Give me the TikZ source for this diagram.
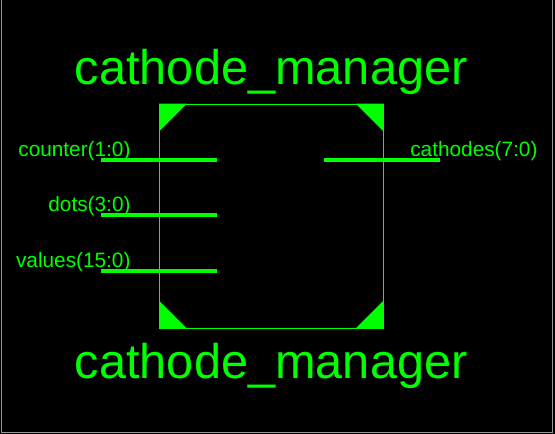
\documentclass[tikz,border=0pt]{standalone}
\usepackage{fontspec}
\setmainfont{Liberation Sans}
\usepackage{xcolor}
\usetikzlibrary{positioning}
\definecolor{schgreen}{RGB}{0,255,0}
\definecolor{framegray}{RGB}{150,150,150}

\begin{document}
\begin{tikzpicture}[x=1pt,y=-1pt,line width=1pt]
  \tikzstyle{pin wire} = [draw,schgreen,line width=4pt]
  \tikzstyle{pin label} = [schgreen,font=\fontsize{20.8}{24}\selectfont,inner sep=0pt,anchor=base east]
  \tikzstyle{block title} = [schgreen,font=\fontsize{48.7}{56}\selectfont,inner sep=0pt]
  \tikzstyle{corner mark} = [fill=schgreen]

  \fill[black] (0,0) rectangle (555,434);
  \useasboundingbox (0,0) rectangle (555,434);
  \draw[framegray] (1.5,-2) -- (1.5,432.5) -- (552.5,432.5) -- (552.5,-2);

  \node[draw=schgreen,minimum width=223.5pt,minimum height=224pt,inner sep=0pt] (box) at (271.25,216) {};
  \node[block title,above=8pt of box] (title top) {cathode\_manager};
  \node[block title,below=14.5pt of box] (title bottom) {cathode\_manager};

  % corner triangles
  \fill[corner mark] (box.north west) -- ++(28,0) -- ++(-28,28) -- cycle;
  \fill[corner mark] (box.north east) -- ++(-28,0) -- ++(28,28) -- cycle;
  \fill[corner mark] (box.south west) -- ++(28,0) -- ++(-28,-28) -- cycle;
  \fill[corner mark] (box.south east) -- ++(-28,0) -- ++(28,-28) -- cycle;

  % input pins
  \coordinate (counter a) at (101,160);
  \coordinate (counter b) at (217,160);
  \coordinate (dots a) at (101,215);
  \coordinate (dots b) at (217,215);
  \coordinate (values a) at (101,271);
  \coordinate (values b) at (217,271);
  \path[pin wire] (counter a) -- (counter b);
  \path[pin wire] (dots a) -- (dots b);
  \path[pin wire] (values a) -- (values b);
  \node[pin label] (counter) at (131,156) {counter(1:0)};
  \node[pin label] (dots) at (131,211.5) {dots(3:0)};
  \node[pin label] (values) at (131,267) {values(15:0)};

  % output pin
  \coordinate (cathodes a) at (324,160);
  \coordinate (cathodes b) at (440,160);
  \path[pin wire] (cathodes a) -- (cathodes b);
  \node[pin label] (cathodes) at (538,156) {cathodes(7:0)};
\end{tikzpicture}
\end{document}
